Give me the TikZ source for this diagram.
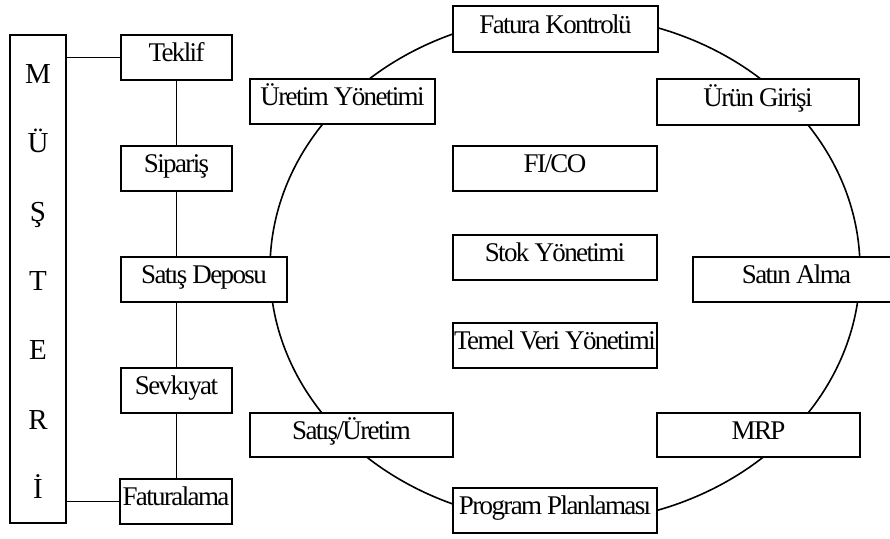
\documentclass[tikz,border=0pt]{standalone}
\usepackage{fontspec}
\setmainfont{Liberation Serif}[LetterSpace=-6]
\begin{document}
\begin{tikzpicture}[x=1pt,y=-1pt,
  mod/.style={draw, line width=2pt, fill=white, minimum height=45pt,
    inner sep=0pt, text height=12pt, text depth=4pt,
    font=\fontsize{27}{30}\selectfont},
  link/.style={line width=1.6pt},
  ring/.style={line width=1.6pt},
  letter/.style={anchor=base, inner sep=0pt, font=\fontsize{29}{30}\selectfont}]
\useasboundingbox (0,0) rectangle (890,538);
\fill[white] (0,0) rectangle (890,538);
\clip (0,0) rectangle (890,538);

% the module ring
\draw[ring] (565,269) ellipse [x radius=295pt, y radius=254pt];

% customer column
\node[draw, line width=2pt, fill=white, minimum width=56pt, minimum height=488pt, inner sep=0pt] (cust) at (38,279) {};
\foreach \ch [count=\i from 0] in {M,Ü,Ş,T,E,R,İ}
  \node[letter] (cust\i) at (38,{83+69.2*\i}) {\ch};

% sales chain
\node[mod, minimum width=111pt] (teklif) at (176.5,57.5) {Teklif};
\node[mod, minimum width=111pt] (siparis) at (176.5,168.5) {Sipariş};
\node[mod, minimum width=166pt] (depo) at (204,279.5) {Satış Deposu};
\node[mod, minimum width=111pt] (sevk) at (176.5,390.5) {Sevkıyat};
\node[mod, minimum width=112pt] (fatura) at (176,501.5) {Faturalama};

% modules on the ring
\node[mod, minimum width=185pt] (uretim) at (342.5,101.5) {Üretim Yönetimi};
\node[mod, minimum width=205pt, minimum height=46pt] (kontrol) at (555.5,29) {Fatura Kontrolü};
\node[mod, minimum width=202pt, minimum height=46pt] (giris) at (758,102) {Ürün Girişi};
\node[mod, minimum width=207pt] (satin) at (796.5,279.5) {Satın Alma};
\node[mod, minimum width=203pt, minimum height=44pt] (mrp) at (758.5,435) {MRP};
\node[mod, minimum width=204pt] (program) at (555,510.5) {Program Planlaması};
\node[mod, minimum width=203pt, minimum height=44pt] (satur) at (351.5,435) {Satış/Üretim};

% central modules
\node[mod, minimum width=204pt] (fico) at (555,168.5) {FI/CO};
\node[mod, minimum width=204pt] (stok) at (555,257.5) {Stok Yönetimi};
\node[mod, minimum width=204pt] (temel) at (555,345.5) {Temel Veri Yönetimi};

% connectors
\draw[link] (teklif.west) -- (teklif.west -| cust.east);
\draw[link] (fatura.west) -- (fatura.west -| cust.east);
\draw[link] (teklif.south) -- (siparis.north);
\draw[link] (siparis.south) -- (siparis.south |- depo.north);
\draw[link] (sevk.north |- depo.south) -- (sevk.north);
\draw[link] (sevk.south) -- (sevk.south |- fatura.north);
\end{tikzpicture}
\end{document}
